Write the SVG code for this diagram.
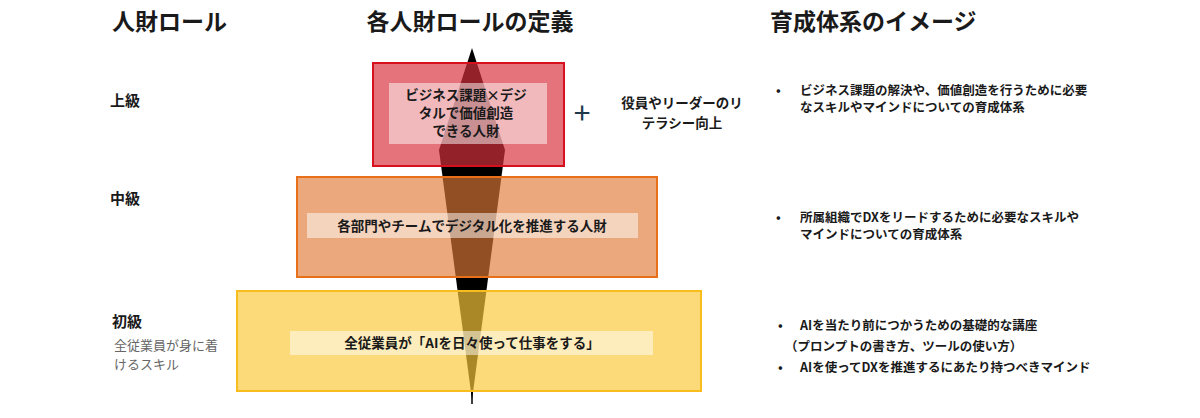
<svg xmlns="http://www.w3.org/2000/svg" width="1200" height="418" viewBox="0 0 1200 418">
<style>
text{font-family:"Noto Sans CJK JP","Noto Sans",sans-serif;fill:#1a1a1a}
.h{font-size:23px;font-weight:bold}
.lv{font-size:15px;font-weight:bold}
.b{font-size:13.5px;font-weight:bold}
.r{font-size:12.5px;font-weight:bold}
.lab{fill:#fff;opacity:.5}
</style>
<rect width="1200" height="418" fill="#fff"/>
<text class="h" x="112" y="30">人財ロール</text>
<text class="h" x="470" y="30" text-anchor="middle">各人財ロールの定義</text>
<text class="h" x="770" y="30">育成体系のイメージ</text>
<text class="lv" x="110" y="106">上級</text>
<text class="lv" x="110" y="204">中級</text>
<text class="lv" x="112" y="327">初級</text>
<text x="114" y="350" font-size="13" style="fill:#666">全従業員が身に着</text>
<text x="114" y="369" font-size="13" style="fill:#666">けるスキル</text>
<g id="connectors">
<polygon points="472,48 505,150 472,400 439,150" fill="#000"/>
<line x1="472" y1="390" x2="472" y2="404" stroke="#000" stroke-width="1.5"/>
</g>
<g id="advanced">
<rect x="373" y="63" width="191" height="103" fill="#d9303d" fill-opacity=".68" stroke="#d7101e" stroke-width="2"/>
<rect class="lab" x="389" y="83" width="158" height="61"/>
<text class="b" text-anchor="middle"><tspan x="466" y="100">ビジネス課題×デジ</tspan><tspan x="466" y="118">タルで価値創造</tspan><tspan x="466" y="136">できる人財</tspan></text>
</g>
<g id="plus"><text x="582" y="124" font-size="30" text-anchor="middle" style="fill:#1e3a4a">+</text></g>
<g id="leader"><text class="b" text-anchor="middle"><tspan x="682" y="108">役員やリーダーのリ</tspan><tspan x="682" y="128">テラシー向上</tspan></text></g>
<g id="middle">
<rect x="297" y="177" width="360" height="100" fill="#e07a35" fill-opacity=".65" stroke="#e8701a" stroke-width="2"/>
<rect class="lab" x="307" y="213" width="331" height="25"/>
<text class="b" x="472" y="231" text-anchor="middle">各部門やチームでデジタル化を推進する人財</text>
</g>
<g id="basic">
<rect x="237" y="291" width="464" height="100" fill="#fcc93a" fill-opacity=".68" stroke="#f8bd1c" stroke-width="2"/>
<rect class="lab" x="290" y="331" width="363" height="24"/>
<text class="b" x="472" y="348" text-anchor="middle">全従業員が「AIを日々使って仕事をする」</text>
</g>
<g id="edu">
<text class="r" x="776" y="95">•</text>
<text class="r"><tspan x="800" y="95">ビジネス課題の解決や、価値創造を行うために必要</tspan><tspan x="800" y="112">なスキルやマインドについての育成体系</tspan></text>
<text class="r" x="776" y="222">•</text>
<text class="r"><tspan x="800" y="222">所属組織でDXをリードするために必要なスキルや</tspan><tspan x="800" y="239">マインドについての育成体系</tspan></text>
<text class="r" x="778" y="330">•</text>
<text class="r" x="800" y="330">AIを当たり前につかうための基礎的な講座</text>
<text class="r" x="785" y="351">（プロンプトの書き方、ツールの使い方）</text>
<text class="r" x="778" y="372">•</text>
<text class="r" x="800" y="372">AIを使ってDXを推進するにあたり持つべきマインド</text>
</g>
</svg>
